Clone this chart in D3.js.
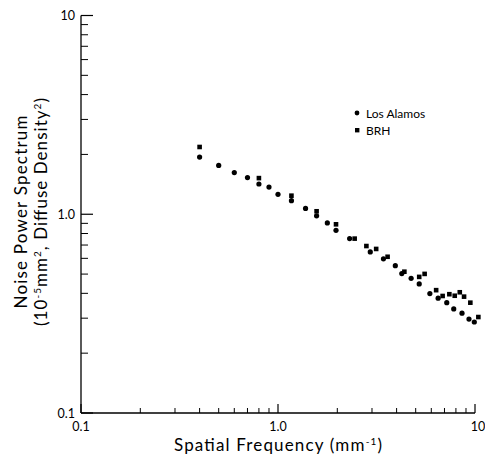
<!DOCTYPE html>
<html lang="en">
<head>
    <meta charset="UTF-8">
    <title>Noise Power Spectrum</title>
    <script src="https://d3js.org/d3.v7.min.js"></script>
    <style type="text/css">
    body { margin: 0; background: #fff; }
    text { font-family: Lato, "Open Sans", sans-serif; fill: #000; }
    </style>
</head>
<body>
</body>
</html>

<script>
// Los Alamos (circles)
var losX = [0.4, 0.5, 0.6, 0.7, 0.8, 0.9, 1.0, 1.17, 1.38, 1.57, 1.78, 1.97, 2.31, 2.94, 3.43, 3.94, 4.25, 4.74, 5.21, 5.9, 6.5, 7.19, 7.8, 8.59, 9.32, 9.92];
var losY = [1.94, 1.76, 1.62, 1.53, 1.42, 1.37, 1.26, 1.17, 1.07, 0.982, 0.904, 0.83, 0.754, 0.646, 0.597, 0.551, 0.503, 0.476, 0.446, 0.399, 0.378, 0.359, 0.334, 0.318, 0.297, 0.287];

// BRH (squares)
var brhX = [0.4, 0.8, 1.17, 1.57, 1.97, 2.45, 2.81, 3.15, 3.6, 4.38, 5.21, 5.55, 6.35, 6.85, 7.41, 7.89, 8.37, 8.8, 9.47, 10.4];
var brhY = [2.18, 1.52, 1.24, 1.035, 0.89, 0.754, 0.692, 0.669, 0.611, 0.514, 0.484, 0.501, 0.415, 0.388, 0.396, 0.389, 0.405, 0.385, 0.359, 0.304];

// tick labels
var xTickVals = [0.1, 1, 10];
var xTickText = ["0.1", "1.0", "10"];
var yTickVals = [0.1, 1, 10];
var yTickText = ["0.1", "1.0", "10"];

var svg = d3.select("body")
  .append("svg")
  .attr("width", 485)
  .attr("height", 459);

var x = d3.scaleLog().domain([0.1, 10]).range([81, 475]);
var y = d3.scaleLog().domain([0.1, 10]).range([413, 15.5]);

// minor ticks 2..9 in each decade
var minors = [];
[0.1, 1].forEach(function(d) {
  for (var k = 2; k <= 9; k++) minors.push(d * k);
});

// x axis (ticks point up, into the plot)
var xAxis = svg.append("g").attr("transform", "translate(0,413)");
xAxis.append("line").attr("x1", 81).attr("x2", 475).attr("stroke", "#000").attr("stroke-width", 1.3);
xAxis.selectAll(".minor").data(minors).enter().append("line")
  .attr("x1", function(d) { return x(d); }).attr("x2", function(d) { return x(d); })
  .attr("y1", 0).attr("y2", -5).attr("stroke", "#000").attr("stroke-width", 1);
xAxis.selectAll(".major").data(xTickVals).enter().append("line")
  .attr("x1", function(d) { return x(d); }).attr("x2", function(d) { return x(d); })
  .attr("y1", 0).attr("y2", -9).attr("stroke", "#000").attr("stroke-width", 1.2);
xAxis.selectAll(".lab").data(xTickVals).enter().append("text")
  .attr("x", function(d, i) { return x(d) + (i == 2 ? 3 : 0); })
  .attr("y", 18)
  .attr("text-anchor", "middle")
  .style("font-size", "12.5px")
  .text(function(d, i) { return xTickText[i]; });

// y axis (ticks point right)
var yAxis = svg.append("g").attr("transform", "translate(81,0)");
yAxis.append("line").attr("y1", 15.5).attr("y2", 413).attr("stroke", "#000").attr("stroke-width", 1.3);
yAxis.selectAll(".minor").data(minors).enter().append("line")
  .attr("y1", function(d) { return y(d); }).attr("y2", function(d) { return y(d); })
  .attr("x1", 0).attr("x2", 7).attr("stroke", "#000").attr("stroke-width", 1);
yAxis.selectAll(".major").data(yTickVals).enter().append("line")
  .attr("y1", function(d) { return y(d); }).attr("y2", function(d) { return y(d); })
  .attr("x1", 0).attr("x2", 12).attr("stroke", "#000").attr("stroke-width", 1.2);
yAxis.selectAll(".lab").data(yTickVals).enter().append("text")
  .attr("x", -6)
  .attr("y", function(d) { return y(d) + 4.5; })
  .attr("text-anchor", "end")
  .style("font-size", "12.5px")
  .text(function(d, i) { return yTickText[i]; });

// axis titles (stretched to the widths of the original lettering)
var xt = svg.append("text")
  .attr("x", 278).attr("y", 451)
  .attr("text-anchor", "middle")
  .attr("textLength", 208)
  .style("font-size", "17px");
xt.append("tspan").text("Spatial Frequency (mm");
xt.append("tspan").attr("dy", -6).style("font-size", "10px").text("-1");
xt.append("tspan").attr("dy", 6).text(")");

var yt = svg.append("g").attr("transform", "translate(27,212) rotate(-90)");
yt.append("text").attr("text-anchor", "middle").attr("textLength", 193).style("font-size", "17px")
  .text("Noise Power Spectrum");
var yt2 = yt.append("text").attr("y", 20).attr("text-anchor", "middle")
  .attr("textLength", 228).style("font-size", "17px");
yt2.append("tspan").text("(10");
yt2.append("tspan").attr("dy", -6).style("font-size", "10px").text("-5");
yt2.append("tspan").attr("dy", 6).text("mm");
yt2.append("tspan").attr("dy", -6).style("font-size", "10px").text("2");
yt2.append("tspan").attr("dy", 6).text(", Diffuse Density");
yt2.append("tspan").attr("dy", -6).style("font-size", "10px").text("2");
yt2.append("tspan").attr("dy", 6).text(")");

// data points
var los = losX.map(function(d, i) { return { x: d, y: losY[i] }; });
var brh = brhX.map(function(d, i) { return { x: d, y: brhY[i] }; });

svg.selectAll("rect.brh").data(brh).enter().append("rect")
  .attr("class", "brh")
  .attr("x", function(d) { return x(d.x) - 2.3; })
  .attr("y", function(d) { return y(d.y) - 2.3; })
  .attr("width", 4.6).attr("height", 4.6)
  .attr("fill", "#000");

svg.selectAll("circle.los").data(los).enter().append("circle")
  .attr("class", "los")
  .attr("cx", function(d) { return x(d.x); })
  .attr("cy", function(d) { return y(d.y); })
  .attr("r", 2.6)
  .attr("fill", "#000");

// legend
var legend = svg.append("g");
legend.append("circle").attr("cx", 357).attr("cy", 113).attr("r", 2.4).attr("fill", "#000");
legend.append("text").attr("x", 366).attr("y", 117.5).style("font-size", "12px").text("Los Alamos");
legend.append("rect").attr("x", 355).attr("y", 128).attr("width", 4.4).attr("height", 4.4).attr("fill", "#000");
legend.append("text").attr("x", 366).attr("y", 134.5).style("font-size", "12px").text("BRH");
</script>
